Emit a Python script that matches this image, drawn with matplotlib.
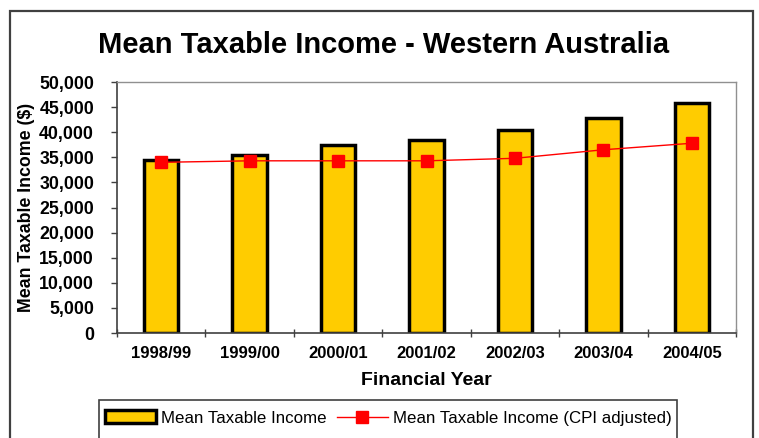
import matplotlib
matplotlib.use("Agg")
import matplotlib.pyplot as plt
from matplotlib.patches import Rectangle
from matplotlib.ticker import FuncFormatter, FixedLocator

plt.rcParams['font.family'] = ['Liberation Sans', 'DejaVu Sans']

years = ["1998/99", "1999/00", "2000/01", "2001/02", "2002/03", "2003/04", "2004/05"]
mean_income = [34400, 35400, 37400, 38400, 40400, 42800, 45900]
mean_income_cpi = [34000, 34300, 34300, 34300, 34800, 36500, 37800]
y_ticks = [0, 5000, 10000, 15000, 20000, 25000, 30000, 35000, 40000, 45000, 50000]

W, H = 759, 438
fig = plt.figure(figsize=(W / 100, H / 100), dpi=100)
fig.patch.set_facecolor('white')

# outer chart border
fig.patches.append(Rectangle((10 / W, -0.2), (753 - 10) / W, 1.2 - 11 / H,
                             transform=fig.transFigure, fill=False,
                             edgecolor='#404040', linewidth=1.6, zorder=0))

left, right, top, bottom = 117, 736, 82, 333
ax = fig.add_axes([left / W, 1 - bottom / H, (right - left) / W, (bottom - top) / H])

x = list(range(len(years)))
bars = ax.bar(x, mean_income, width=0.39, color='#FFCC00', edgecolor='black',
              linewidth=2.5, label='Mean Taxable Income', zorder=2)
line, = ax.plot(x, mean_income_cpi, color='#FF0000', linewidth=1.0, marker='s',
                markersize=8, markerfacecolor='#FF0000', markeredgecolor='#FF0000',
                label='Mean Taxable Income (CPI adjusted)', zorder=3)

ax.set_xlim(-0.5, len(years) - 0.5)
ax.set_ylim(0, 50000)
ax.set_yticks(y_ticks)
ax.yaxis.set_major_formatter(FuncFormatter(lambda v, p: f"{int(v):,}"))
ax.set_xticks(x)
ax.set_xticklabels(years)
ax.xaxis.set_minor_locator(FixedLocator([i - 0.5 for i in range(len(years) + 1)]))

ax.tick_params(axis='x', which='major', length=0, pad=9, labelsize=12)
ax.tick_params(axis='x', which='minor', length=6, direction='inout', width=1, color='#404040')
ax.tick_params(axis='y', which='major', length=4.5, direction='out', width=1,
               color='#404040', pad=12, labelsize=12.8)
for lab in ax.get_xticklabels() + ax.get_yticklabels():
    lab.set_fontweight('bold')

for s in ['top', 'right']:
    ax.spines[s].set_color('#909090')
    ax.spines[s].set_linewidth(1.0)
for s in ['left', 'bottom']:
    ax.spines[s].set_color('#404040')
    ax.spines[s].set_linewidth(1.2)

ax.set_xlabel('Financial Year', fontsize=14, fontweight='bold', labelpad=8.5)
ax.set_ylabel('Mean Taxable Income ($)', fontsize=12.8, fontweight='bold', labelpad=3)

fig.text(383.5 / W, 1 - 52.7 / H, 'Mean Taxable Income - Western Australia',
         ha='center', va='baseline', fontsize=21, fontweight='bold')

# legend
fig.patches.append(Rectangle((99 / W, -0.2), (677 - 99) / W, 0.2 + 1 - 400 / H,
                             transform=fig.transFigure, fill=False,
                             edgecolor='#404040', linewidth=1.2, zorder=0))
leg = fig.legend(handles=[bars, line], loc='center left',
                 bbox_to_anchor=(105 / W, 1 - 418 / H), ncol=2, frameon=False,
                 fontsize=12.2, borderpad=0, borderaxespad=0, handlelength=3.0,
                 handleheight=0.75, handletextpad=0.3, columnspacing=0.6)

fig.savefig('out.png', dpi=100)
